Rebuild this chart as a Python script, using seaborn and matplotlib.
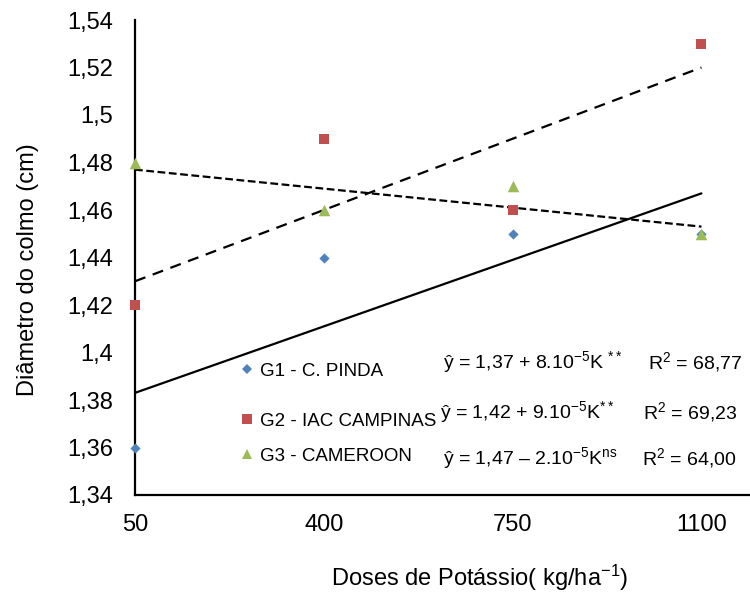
import matplotlib
matplotlib.use("Agg")
import matplotlib.pyplot as plt
import seaborn as sns
from matplotlib.lines import Line2D

# ---- data ----
doses = [50, 400, 750, 1100]
g1 = [1.36, 1.44, 1.45, 1.45]
g2 = [1.42, 1.49, 1.46, 1.53]
g3 = [1.48, 1.46, 1.47, 1.45]
series_names = ["G1 - C. PINDA", "G2 - IAC CAMPINAS", "G3 - CAMEROON"]
y_ticks = [1.34, 1.36, 1.38, 1.40, 1.42, 1.44, 1.46, 1.48, 1.50, 1.52, 1.54]
y_tick_labels = ["1,34", "1,36", "1,38", "1,4", "1,42", "1,44", "1,46", "1,48", "1,5", "1,52", "1,54"]
x_ticks = [50, 400, 750, 1100]
equations = [r"ŷ = 1,37 + 8.10$^{-5}$K $^{**}$",
             r"ŷ = 1,42 + 9.10$^{-5}$K$^{**}$",
             r"ŷ = 1,47 – 2.10$^{-5}$K$^{ns}$"]
r2_texts = [r"R$^{2}$ = 68,77", r"R$^{2}$ = 69,23", r"R$^{2}$ = 64,00"]

sns.set_style("white")
plt.rcParams["font.family"] = ["Liberation Sans", "DejaVu Sans"]
plt.rcParams["mathtext.fontset"] = "custom"
plt.rcParams["mathtext.rm"] = "Liberation Sans"
plt.rcParams["mathtext.it"] = "Liberation Sans"
plt.rcParams["mathtext.default"] = "regular"
plt.rcParams["text.color"] = "black"
plt.rcParams["axes.labelcolor"] = "black"

W, H = 750, 592
fig = plt.figure(figsize=(7.5, 5.92), dpi=100)
ax = fig.add_axes([135 / W, 1 - 495 / H, (750 - 135) / W, (495 - 20) / H])

colors = ["#4F81BD", "#C0504D", "#9BBB59"]
markers = ["D", "s", "^"]
msizes = [5.2, 7, 8.3]
line_styles = ["-", (0, (5, 3.5)), (0, (3.5, 1.6))]
data = [g1, g2, g3]

for ys, ls in zip(data, line_styles):
    sns.regplot(x=doses, y=ys, scatter=False, ci=None, ax=ax, color="black",
                line_kws=dict(lw=1.6, ls=ls, zorder=2))

for ys, c, m, ms in zip(data, colors, markers, msizes):
    sns.scatterplot(x=doses, y=ys, ax=ax, color=c, marker=m, s=ms ** 2,
                    linewidth=0, clip_on=False, zorder=3)

ax.set_xlim(50, 1190)
ax.set_ylim(1.34, 1.54)
ax.set_xticks(x_ticks)
ax.set_xticklabels([str(v) for v in x_ticks])
ax.set_yticks(y_ticks)
ax.set_yticklabels(y_tick_labels)
for s in ["top", "right"]:
    ax.spines[s].set_visible(False)
for s in ["left", "bottom"]:
    ax.spines[s].set_color("black")
    ax.spines[s].set_linewidth(1.6)
ax.tick_params(axis="both", direction="out", length=5, width=1.4, colors="black",
               labelsize=17)
ax.tick_params(axis="y", pad=11)
ax.tick_params(axis="x", pad=9)
ax.grid(False)

ax.set_ylabel("Diâmetro do colmo (cm)", fontsize=17, color="black")
ax.set_xlabel(r"Doses de Potássio( kg/ha$^{-1}$)", fontsize=17, color="black")
ax.yaxis.set_label_coords(28 / W, 1 - 270 / H, transform=fig.transFigure)
ax.xaxis.set_label_coords(480 / W, 1 - 578 / H, transform=fig.transFigure)
ax.xaxis.label.set_va("center")
ax.yaxis.label.set_va("center")

# legend entries (one per row)
leg_y = [371, 421, 456]
for i, (name, c, m, ms, yy) in enumerate(zip(series_names, colors, markers, msizes, leg_y)):
    h = Line2D([], [], ls="none", marker=m, color=c, markersize=ms * 0.95, markeredgewidth=0)
    lg = ax.legend(handles=[h], labels=[name], loc="center left",
                   bbox_to_anchor=(241.6 / W, 1 - yy / H), bbox_transform=fig.transFigure,
                   frameon=False, fontsize=13.5, handlelength=0.6, handletextpad=0.4,
                   borderpad=0, borderaxespad=0, labelcolor="black")
    if i < 2:
        ax.add_artist(lg)

eq_pos = [(443, 362), (440, 412), (443, 458)]
r2_pos = [(648, 362), (643, 412), (642, 458)]
for eq, r2, (ex, ey), (rx, ry) in zip(equations, r2_texts, eq_pos, r2_pos):
    fig.text(ex / W, 1 - ey / H, eq, fontsize=14, ha="left", va="center", color="black")
    fig.text(rx / W, 1 - ry / H, r2, fontsize=14, ha="left", va="center", color="black")

fig.savefig("out.png", dpi=100)
